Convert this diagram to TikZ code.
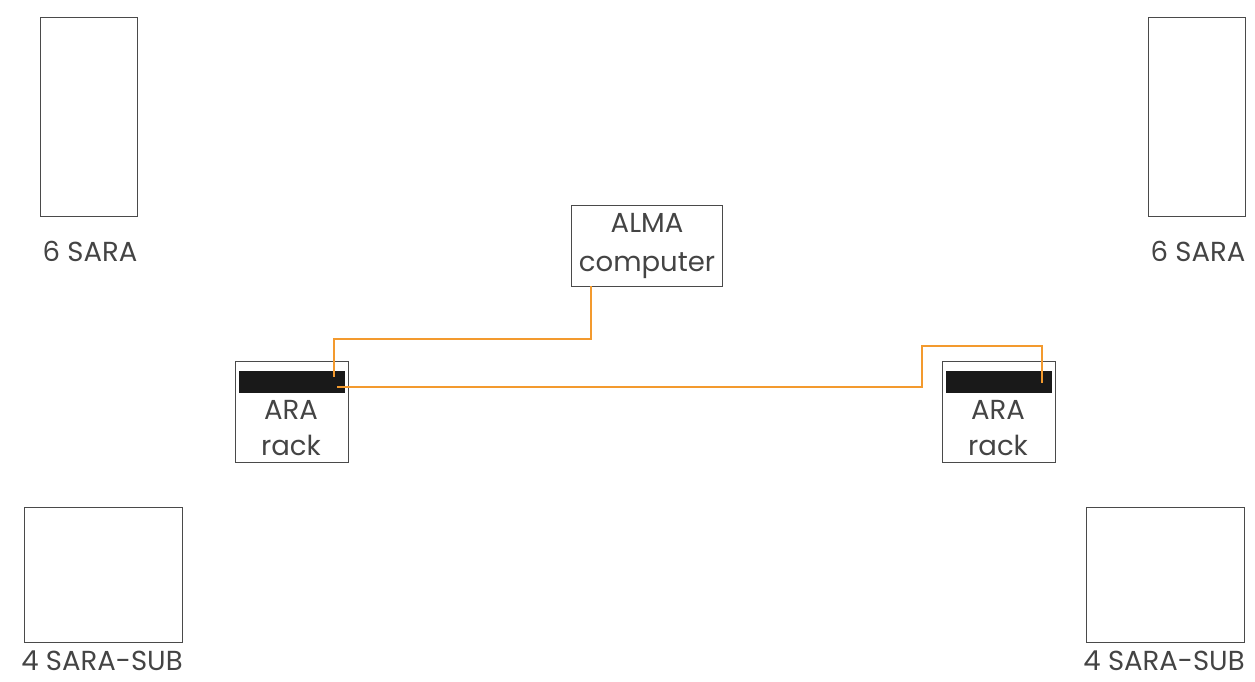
\documentclass[tikz,border=0pt]{standalone}
\usepackage{fontspec}
\setmainfont{Poppins}
\usepackage{tikz}
\usetikzlibrary{positioning}

\definecolor{cableorange}{HTML}{F39A2E}
\definecolor{boxgray}{HTML}{4A4A4A}
\definecolor{textgray}{HTML}{444444}

\begin{document}
\begin{tikzpicture}[
  x=1pt, y=-1pt,
  unit/.style={draw=boxgray, line width=1.1pt, rectangle, inner sep=0pt, anchor=north west},
  label/.style={font=\fontsize{27.5}{33}\selectfont, text=textgray, inner sep=0pt},
  rackbox/.style={draw=boxgray, line width=1.1pt, rectangle, inner sep=0pt, anchor=north west, minimum width=113pt, minimum height=101pt},
  bar/.style={fill=black!90, draw=none, inner sep=0pt, anchor=north west, minimum width=106pt, minimum height=22pt},
  cable/.style={draw=cableorange, line width=1.4pt}
]
  \useasboundingbox (0,0) rectangle (1255,681);

  % antenna groups
  \node[unit, minimum width=97pt, minimum height=199pt] (saraL) at (40,17) {};
  \node[unit, minimum width=97pt, minimum height=199pt] (saraR) at (1148,17) {};
  \node[label] (saraLtxt) at (90,251) {6 SARA};
  \node[label] (saraRtxt) at (1198,251) {6 SARA};

  \node[unit, minimum width=158pt, minimum height=135pt] (subL) at (24,507) {};
  \node[unit, minimum width=158pt, minimum height=135pt] (subR) at (1086,507) {};
  \node[label] (subLtxt) at (102,661) {4 SARA-SUB};
  \node[label] (subRtxt) at (1164,661) {4 SARA-SUB};

  % computer
  \node[unit, minimum width=151pt, minimum height=81pt] (alma) at (571,205) {};
  \node[label, align=center] (almatxt) at (alma.center) {ALMA\\[6pt]computer};

  % racks
  \node[rackbox] (rackL) at (235,361) {};
  \node[bar] (barL) at (239,371) {};
  \node[label, align=center] (rackLtxt) at (291,428) {ARA\\[3pt]rack};

  \node[rackbox] (rackR) at (942,361) {};
  \node[bar] (barR) at (946,371) {};
  \node[label, align=center] (rackRtxt) at (998,428) {ARA\\[3pt]rack};

  % cabling
  \coordinate (almaport) at (591,286);
  \coordinate (portL1) at (334,377);
  \coordinate (portL2) at (337,387);
  \coordinate (portR) at (1042,383);

  \draw[cable] (almaport) |- (334,339) -- (portL1);
  \draw[cable] (portL2) -| (922,346) -| (portR);
\end{tikzpicture}
\end{document}
